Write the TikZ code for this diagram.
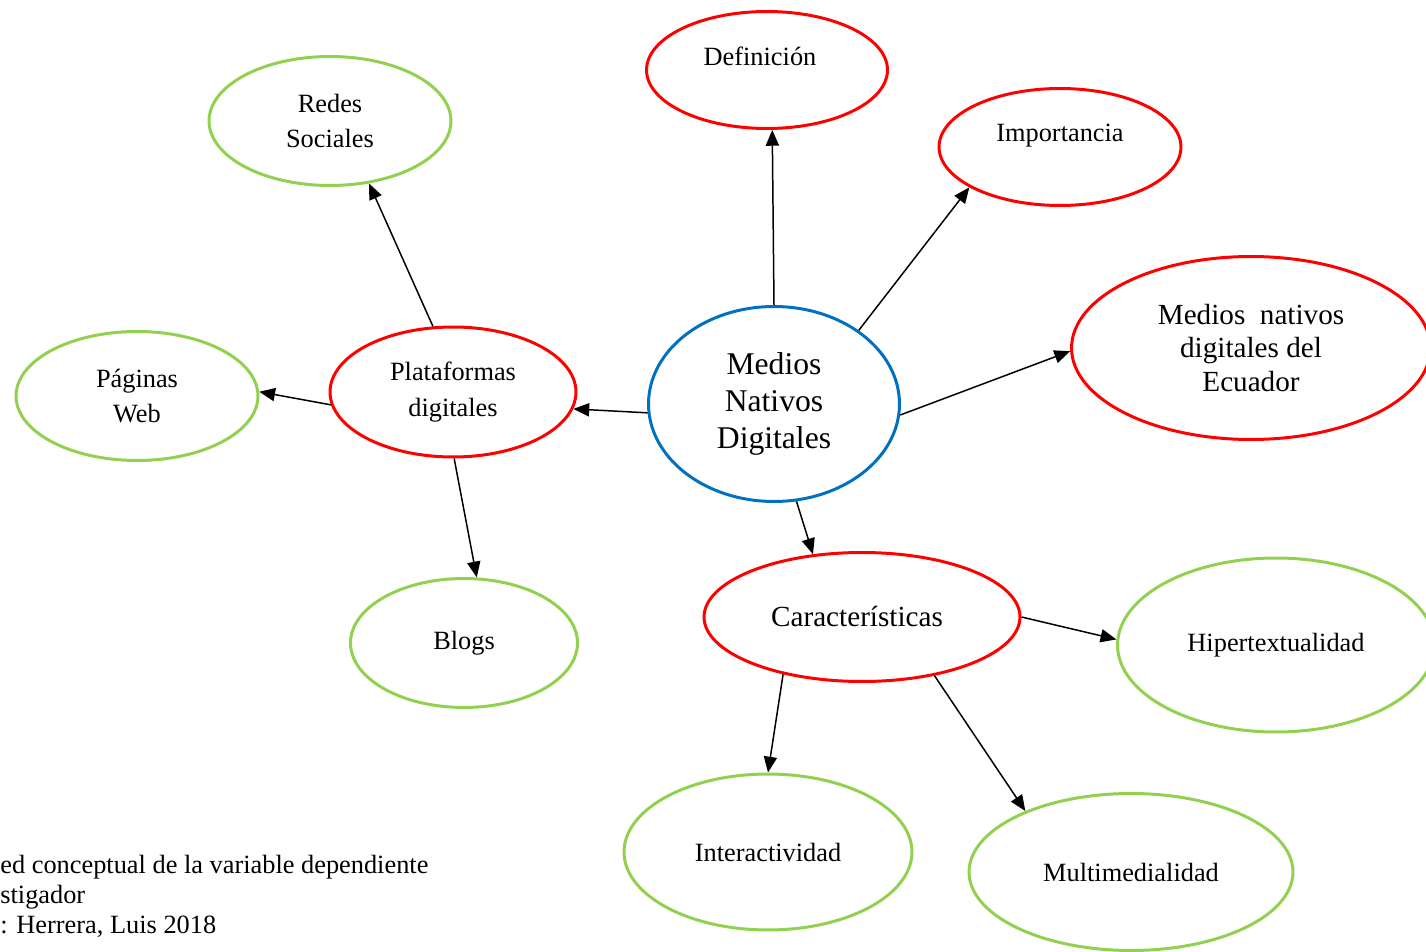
\documentclass[tikz,border=0pt]{standalone}
\usepackage{fontspec}
\setmainfont{Liberation Serif}
\usetikzlibrary{shapes.geometric,arrows.meta}
\definecolor{cred}{RGB}{255,0,0}
\definecolor{cgreen}{RGB}{146,208,80}
\definecolor{cblue}{RGB}{0,112,192}
\begin{document}
\begin{tikzpicture}[x=0.02cm,y=-0.02cm,
  ell/.style={ellipse, draw, line width=1.7pt, inner sep=0pt, align=center},
  redell/.style={ell, draw=cred},
  greenell/.style={ell, draw=cgreen},
  blueell/.style={ell, draw=cblue},
  fsmall/.style={font=\fontsize{15}{20}\selectfont},
  fmid/.style={font=\fontsize{16.6}{19.3}\selectfont},
  fbig/.style={font=\fontsize{18}{21}\selectfont},
  conn/.style={line width=0.85pt, -{Triangle[length=9pt,width=7.5pt]}},
  captxt/.style={font=\fontsize{15}{17}\selectfont, anchor=base west, inner sep=0pt},
]
\useasboundingbox (0,0) rectangle (1426,952);
\clip (0,0) rectangle (1426,952);

% nodes
\node[redell, minimum width=4.82cm, minimum height=2.34cm,
  label={[fsmall, yshift=0.27cm, xshift=-0.14cm]center:Definición}] (def) at (767,70) {};
\node[redell, minimum width=4.84cm, minimum height=2.34cm,
  label={[fsmall, yshift=0.23cm]center:Importancia}] (imp) at (1060,147) {};
\node[redell, fmid, minimum width=7.18cm, minimum height=3.66cm] (ecu) at (1251,348)
  {Medios\ \ nativos\\digitales del\\Ecuador};
\node[blueell, fbig, minimum width=5.02cm, minimum height=3.9cm] (med) at (774,404)
  {Medios\\Nativos\\Digitales};
\node[redell, fsmall, minimum width=4.92cm, minimum height=2.6cm] (plat) at (453,392)
  {Plataformas\\digitales};
\node[greenell, fsmall, minimum width=4.84cm, minimum height=2.58cm] (redes) at (330,121)
  {Redes\\Sociales};
\node[greenell, fsmall, minimum width=4.84cm, minimum height=2.58cm] (pag) at (137,396)
  {Páginas\\Web};
\node[greenell, fsmall, minimum width=4.54cm, minimum height=2.58cm] (blogs) at (464,643)
  {Blogs};
\node[redell, fmid, minimum width=6.32cm, minimum height=2.58cm] (car) at (862,617)
  {Características\hspace*{0.2cm}};
\node[greenell, fsmall, minimum width=6.34cm, minimum height=3.48cm] (hip) at (1276,645)
  {Hipertextualidad};
\node[greenell, fsmall, minimum width=5.76cm, minimum height=3.12cm] (int) at (768,852)
  {Interactividad};
\node[greenell, fsmall, minimum width=6.48cm, minimum height=3.14cm] (mul) at (1131,872)
  {Multimedialidad};

% connectors
\draw[conn] (med.90) -- (def.275.7);
\draw[conn] (med.41.3) -- (imp.204.5);
\draw[conn] (med.355.5) -- (ecu.181.3);
\draw[conn] (med.184.9) -- (plat.352.8);
\draw[conn] (med.283) -- (car.128.7);
\draw[conn] (plat.107.6) -- (redes.302.9);
\draw[conn] (plat.186.4) -- (pag.2.8);
\draw[conn] (plat.271.7) -- (blogs.79.8);
\draw[conn] (car.0.7) -- (hip.178.2);
\draw[conn] (car.216.3) -- (int.90.7);
\draw[conn] (car.321) -- (mul.150.6);

% caption
\node[captxt] (cap1) at (0,873) {ed conceptual de la variable dependiente};
\node[captxt] (cap2) at (0,903) {stigador};
\node[captxt] (cap3) at (0,933) {: Herrera, Luis 2018};
\end{tikzpicture}
\end{document}
